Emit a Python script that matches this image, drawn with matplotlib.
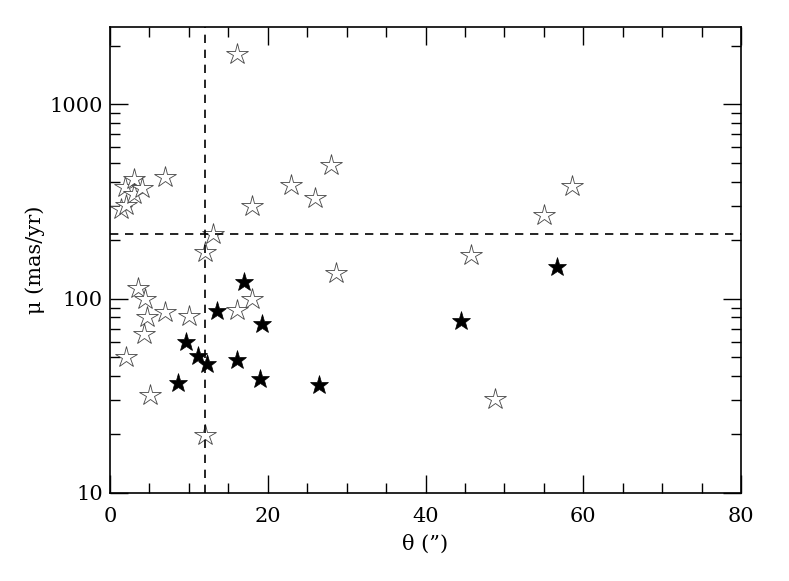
import matplotlib
matplotlib.use("Agg")
import matplotlib.pyplot as plt
from matplotlib.ticker import MultipleLocator, LogLocator, NullFormatter, FixedLocator

plt.rcParams['font.family'] = ['DejaVu Serif']

# open stars
open_theta = [1.4, 2.0, 1.9, 3.0, 3.0, 4.1, 7.0, 13.0, 12.0, 16.1, 18.0, 22.9, 26.0, 28.0,
              28.7, 3.6, 4.5, 18.0, 7.0, 4.65, 10.0, 16.05, 4.35, 2.0, 5.1, 12.0,
              58.6, 55.0, 45.75, 48.8]
open_mu = [290, 304, 377, 415, 347, 371, 424, 215, 173, 1812, 301, 383, 330, 486,
           135, 113, 100, 100, 85.5, 80.6, 81, 87.5, 66, 50, 32.1, 19.9,
           378, 270, 168, 30.3]

# filled stars
fill_theta = [17.0, 13.6, 19.3, 9.6, 11.1, 12.25, 16.05, 19.0, 26.5, 8.6, 56.7, 44.5]
fill_mu = [122, 86.5, 74.5, 59.8, 50.6, 45.9, 48.1, 38.7, 36.1, 36.6, 146, 76.8]

theta_cut = 12.0
mu_cut = 215.0

fig = plt.figure(figsize=(7.89, 5.81), dpi=100)
ax = fig.add_axes([110/789, 1 - 493/581, 631/789, 466/581])

ax.set_yscale('log')
ax.set_xlim(0, 80)
ax.set_ylim(10, 2500)

ax.plot(open_theta, open_mu, linestyle='none', marker='*', markersize=16,
        markerfacecolor='white', markeredgecolor='#444444', markeredgewidth=0.6)
ax.plot(fill_theta, fill_mu, linestyle='none', marker='*', markersize=14,
        markerfacecolor='black', markeredgecolor='black', markeredgewidth=0.5)

ax.axvline(theta_cut, color='black', linestyle=(0, (5, 4)), linewidth=1.2)
ax.axhline(mu_cut, color='black', linestyle=(0, (5, 4)), linewidth=1.2)

ax.xaxis.set_major_locator(MultipleLocator(20))
ax.xaxis.set_minor_locator(MultipleLocator(5))
ax.yaxis.set_major_locator(FixedLocator([10, 100, 1000]))
ax.yaxis.set_minor_locator(LogLocator(base=10, subs=range(2, 10)))
ax.yaxis.set_minor_formatter(NullFormatter())
ax.set_yticklabels(['10', '100', '1000'])

ax.tick_params(which='both', direction='in', top=True, right=True, labelsize=15, width=1.0)
ax.tick_params(which='major', length=13)
ax.tick_params(which='minor', length=7)
ax.tick_params(axis='x', which='major', pad=10)
ax.tick_params(axis='y', which='major', pad=5)
for s in ax.spines.values():
    s.set_linewidth(1.2)

ax.set_xlabel('θ (”)', fontsize=15, labelpad=6)
ax.set_ylabel('μ (mas/yr)', fontsize=15, labelpad=3)

fig.savefig('out.png', dpi=100)
